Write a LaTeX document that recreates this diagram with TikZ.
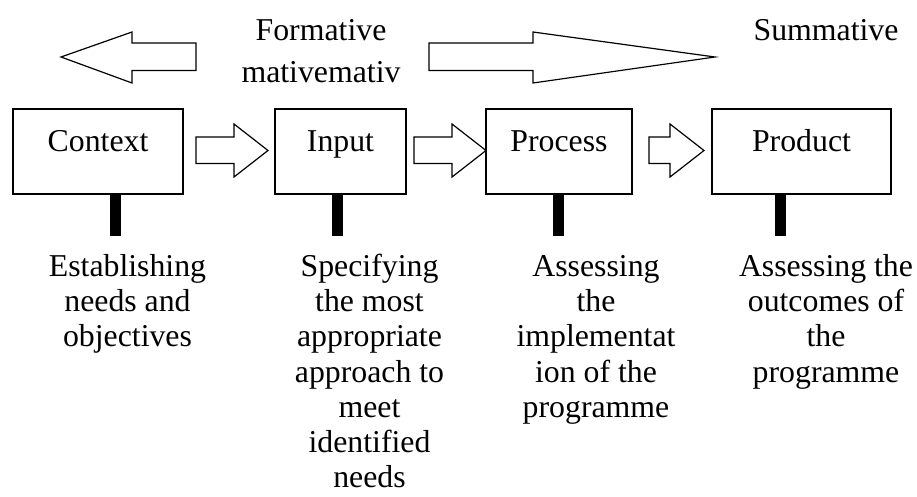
\documentclass[tikz,border=0pt]{standalone}
\usepackage{fontspec}
\setmainfont{Liberation Serif}
\newcommand\dgfont{\fontsize{31.8}{35.2}\selectfont}
\newcommand\blockR[3]{%
  \draw[blk] (#1,137) -- (#2,137) -- (#2,124) -- (#3,150.5) -- (#2,177) -- (#2,163.5) -- (#1,163.5) -- cycle;}
\begin{document}
\begin{tikzpicture}[x=1pt,y=-1pt,
  box/.style={draw, line width=1.2pt, minimum height=85pt, inner sep=0pt,
    text height=20pt, text depth=20pt, font=\dgfont},
  post/.style={fill=black, minimum width=11pt, minimum height=42pt, inner sep=0pt, anchor=north},
  blk/.style={draw, line width=1.2pt, fill=white, line join=miter},
  lbl/.style={inner sep=0pt, anchor=base}]
\useasboundingbox (0,0) rectangle (917,497);

% big arrows
\draw[blk] (196,43) -- (132,43) -- (132,32) -- (61,57) -- (132,83) -- (132,70.5) -- (196,70.5) -- cycle;
\draw[blk] (429,43) -- (533,43) -- (533,32) -- (715,57) -- (533,83) -- (533,70.5) -- (429,70.5) -- cycle;

% top labels
\node[lbl] (form) at (321,41) {\parbox[t]{200pt}{\centering\fontsize{31.8}{42}\selectfont Formative\\ mativemativ}};
\node[lbl] (summ) at (826,41) {\dgfont Summative};

% boxes
\node[box, minimum width=170pt] (ctx) at (98,151.5) {Context};
\node[box, minimum width=131pt] (inp) at (340.5,151.5) {Input};
\node[box, minimum width=146pt] (prc) at (559,151.5) {Process};
\node[box, minimum width=179pt] (prd) at (801.5,151.5) {Product};

% small block arrows
\blockR{196}{234}{268}
\blockR{414}{452}{486}
\blockR{649}{670}{704}

% posts
\node[post] (ctxp) at (115.5,194) {};
\node[post] (inpp) at (337.5,194) {};
\node[post] (prcp) at (558,194) {};
\node[post] (prdp) at (780,194) {};

% bottom texts
\node[lbl] (ctxd) at (127.5,276.5) {\parbox[t]{190pt}{\centering\dgfont Establishing\\ needs and\\ objectives}};
\node[lbl] (inpd) at (369.5,276.5) {\parbox[t]{190pt}{\centering\dgfont Specifying\\ the most\\ appropriate\\ approach to\\ meet\\ identified\\ needs}};
\node[lbl] (prcd) at (596,276.5) {\parbox[t]{180pt}{\centering\dgfont Assessing\\ the\\ implementat\\ ion of the\\ programme}};
\node[lbl] (prdd) at (826,276.5) {\parbox[t]{180pt}{\centering\dgfont Assessing the\\ outcomes of\\ the\\ programme}};
\end{tikzpicture}
\end{document}
